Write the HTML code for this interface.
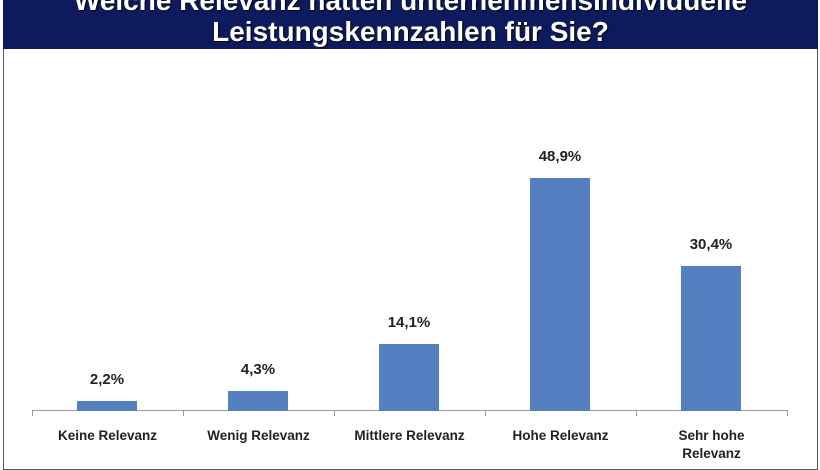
<!DOCTYPE html>
<html><head><meta charset="utf-8"><style>
body{margin:0;width:820px;height:462px;background:#fff;overflow:hidden;position:relative;font-family:"Liberation Sans",Arial,sans-serif}
.hdr{position:absolute;left:3px;top:0;width:815px;height:49px;background:#0e1a5e;color:#fff;font-weight:bold;font-size:28px;text-align:center;line-height:31px;text-shadow:1px 1px 1px #000;overflow:hidden}
.box{position:absolute;left:3px;top:49px;width:813px;height:420px;border:1px solid #555;border-top:none}
.bar{position:absolute;background:#5480bf;width:60px}
.v{position:absolute;width:100px;text-align:center;font-weight:bold;font-size:15px;color:#222}
.c{position:absolute;width:151px;text-align:center;font-weight:bold;font-size:13.5px;color:#222;line-height:18px}
.ax{position:absolute;left:32px;top:410px;width:755px;height:1px;background:#999}
.tk{position:absolute;top:410px;width:1px;height:6px;background:#999}
</style></head><body>
<div class="hdr"><div style="margin-top:-15px">Welche Relevanz hatten unternehmensindividuelle</div><div>Leistungskennzahlen für Sie?</div></div>
<div class="box"></div>
<div class="ax"></div>
<div class="tk" style="left:32px"></div><div class="tk" style="left:183px"></div><div class="tk" style="left:334px"></div><div class="tk" style="left:485px"></div><div class="tk" style="left:636px"></div><div class="tk" style="left:787px"></div>
<div class="bar" style="left:77px;top:401px;height:10px"></div>
<div class="bar" style="left:228px;top:391px;height:20px"></div>
<div class="bar" style="left:379px;top:344px;height:67px"></div>
<div class="bar" style="left:530px;top:178px;height:233px"></div>
<div class="bar" style="left:681px;top:266px;height:145px"></div>
<div class="v" style="left:57px;top:371px">2,2%</div>
<div class="v" style="left:208px;top:361px">4,3%</div>
<div class="v" style="left:359px;top:314px">14,1%</div>
<div class="v" style="left:510px;top:148px">48,9%</div>
<div class="v" style="left:661px;top:236px">30,4%</div>
<div class="c" style="left:32px;top:427px">Keine Relevanz</div>
<div class="c" style="left:183px;top:427px">Wenig Relevanz</div>
<div class="c" style="left:334px;top:427px">Mittlere Relevanz</div>
<div class="c" style="left:485px;top:427px">Hohe Relevanz</div>
<div class="c" style="left:636px;top:427px">Sehr hohe<br>Relevanz</div>
</body></html>
